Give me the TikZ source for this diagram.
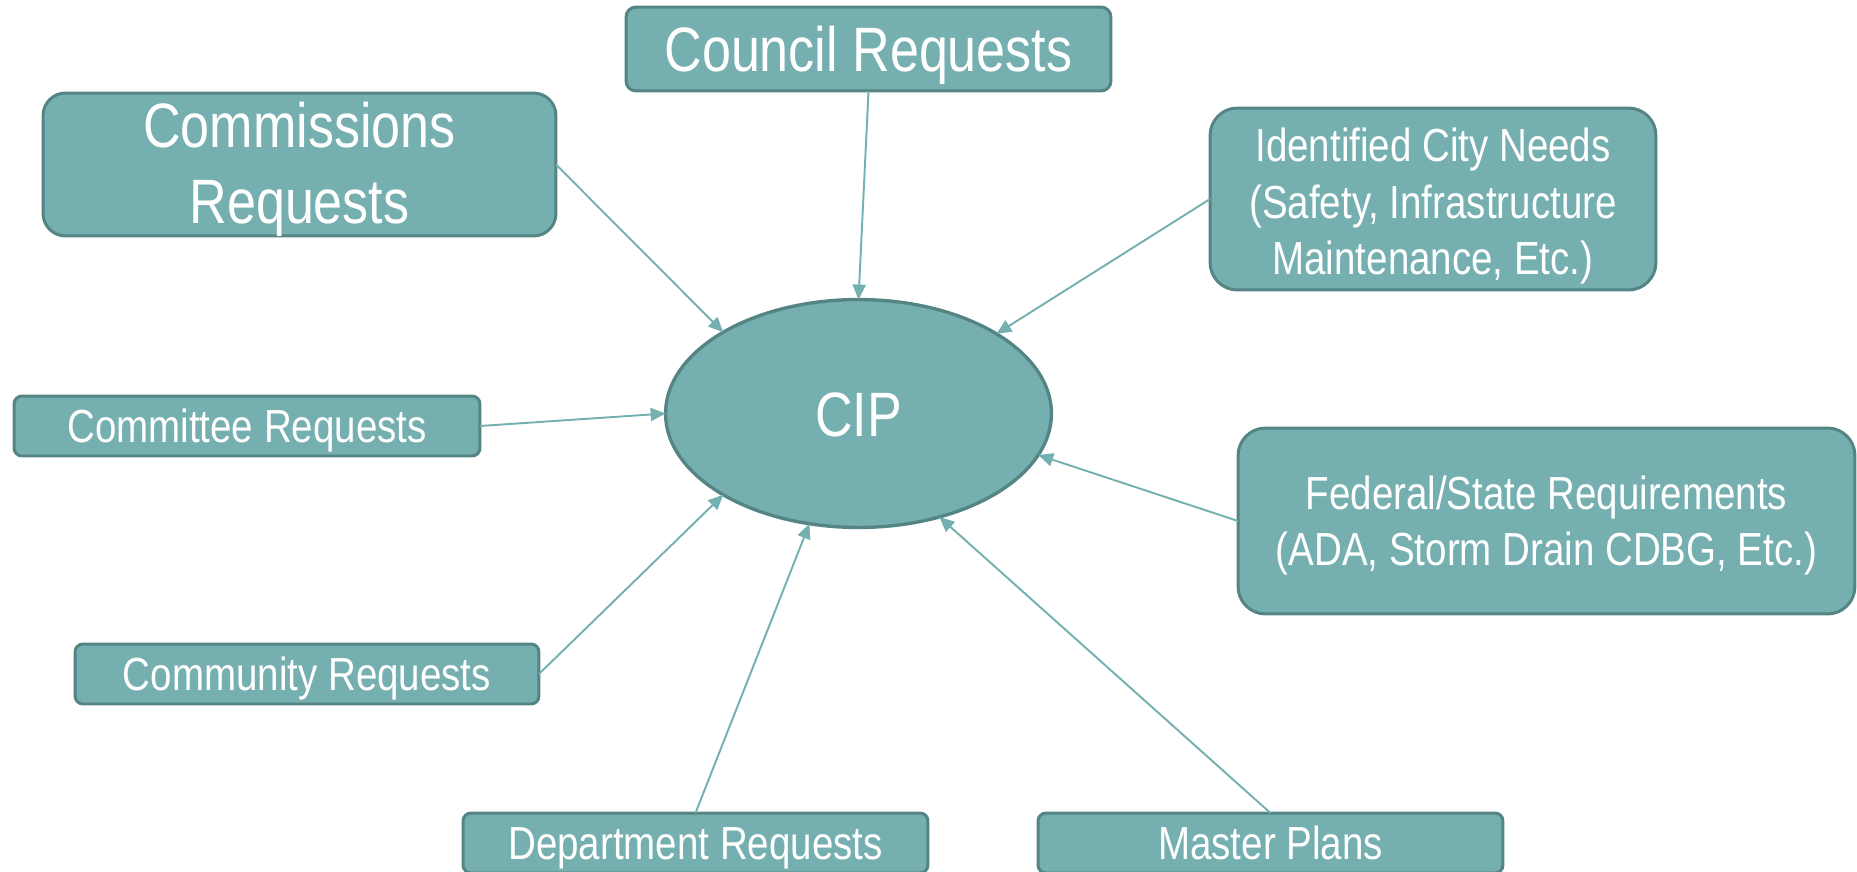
\documentclass[tikz,border=0pt]{standalone}
\usepackage{fontspec}
\setmainfont{Liberation Sans}[FakeStretch=0.83]
\usetikzlibrary{arrows.meta,shapes.geometric}
\definecolor{tealfill}{HTML}{75AFAF}
\definecolor{tealline}{HTML}{548584}
\definecolor{tealarrow}{HTML}{75B0B0}
\begin{document}
\begin{tikzpicture}[x=0.02cm, y=-0.02cm,
    src/.style={draw=tealline, line width=1.7pt, fill=tealfill, rounded corners=#1,
        text=white, align=center, inner sep=0pt, outer sep=0pt},
    src/.default=0.16cm,
    big/.style={font=\fontsize{35.7}{43.6}\selectfont},
    small/.style={font=\fontsize{26.4}{32}\selectfont},
    oneline/.style={text height=19pt, text depth=0pt},
    lbl/.style={text=white, align=center},
    feed/.style={draw=tealarrow, line width=1.1pt, -{Triangle[length=8.5pt,width=7.5pt]}}]
    \useasboundingbox (0,0) rectangle (1857,872);

    % Centre of the diagram
    \node[ellipse, draw=tealline, line width=1.9pt, fill=tealfill, text=white,
        minimum width=7.72cm, minimum height=4.56cm, inner sep=0pt, outer sep=0pt,
        big, text height=25.7pt, text depth=0pt]
        (cip) at (858.5,413.5) {CIP};

    % Sources of requests
    \node[src=0.2cm, big, text height=25.7pt, text depth=0pt, minimum width=9.7cm, minimum height=1.68cm]
        (council) at (868.5,49) {Council Requests};
    \node[src=0.45cm, minimum width=10.26cm, minimum height=2.86cm,
        label={[lbl, big, yshift=-2.8pt]center:{Commissions\\Requests}}] (commis) at (299.5,164.5) {};
    \node[src=0.55cm, minimum width=8.92cm, minimum height=3.64cm,
        label={[lbl, small, yshift=-4pt]center:{Identified City Needs\\(Safety, Infrastructure\\Maintenance, Etc.)}}] (ident) at (1433,199) {};
    \node[src, small, oneline, minimum width=9.32cm, minimum height=1.2cm] (committee) at (247,426) {Committee Requests};
    \node[src=0.55cm, minimum width=12.34cm, minimum height=3.72cm,
        label={[lbl, small, yshift=-2.7pt]center:{Federal/State Requirements\\(ADA, Storm Drain CDBG, Etc.)}}] (federal) at (1546.5,521) {};
    \node[src, small, oneline, minimum width=9.28cm, minimum height=1.2cm] (community) at (307,674) {Community Requests};
    \node[src, small, oneline, minimum width=9.3cm, minimum height=1.2cm] (dept) at (695.5,843) {Department Requests};
    \node[src, small, oneline, minimum width=9.3cm, minimum height=1.2cm] (master) at (1270.5,843) {Master Plans};

    % Arrows into the CIP
    \draw[feed] (council.south) -- (cip.north);
    \draw[feed] (commis.east) -- (cip.149.5);
    \draw[feed] (ident.west) -- (cip.30.8);
    \draw[feed] (committee.east) -- (cip.west);
    \draw[feed] (federal.west) -- (cip.-13.6);
    \draw[feed] (community.east) -- (cip.211);
    \draw[feed] (dept.north) -- (cip.246);
    \draw[feed] (master.north) -- (cip.308);
\end{tikzpicture}
\end{document}
